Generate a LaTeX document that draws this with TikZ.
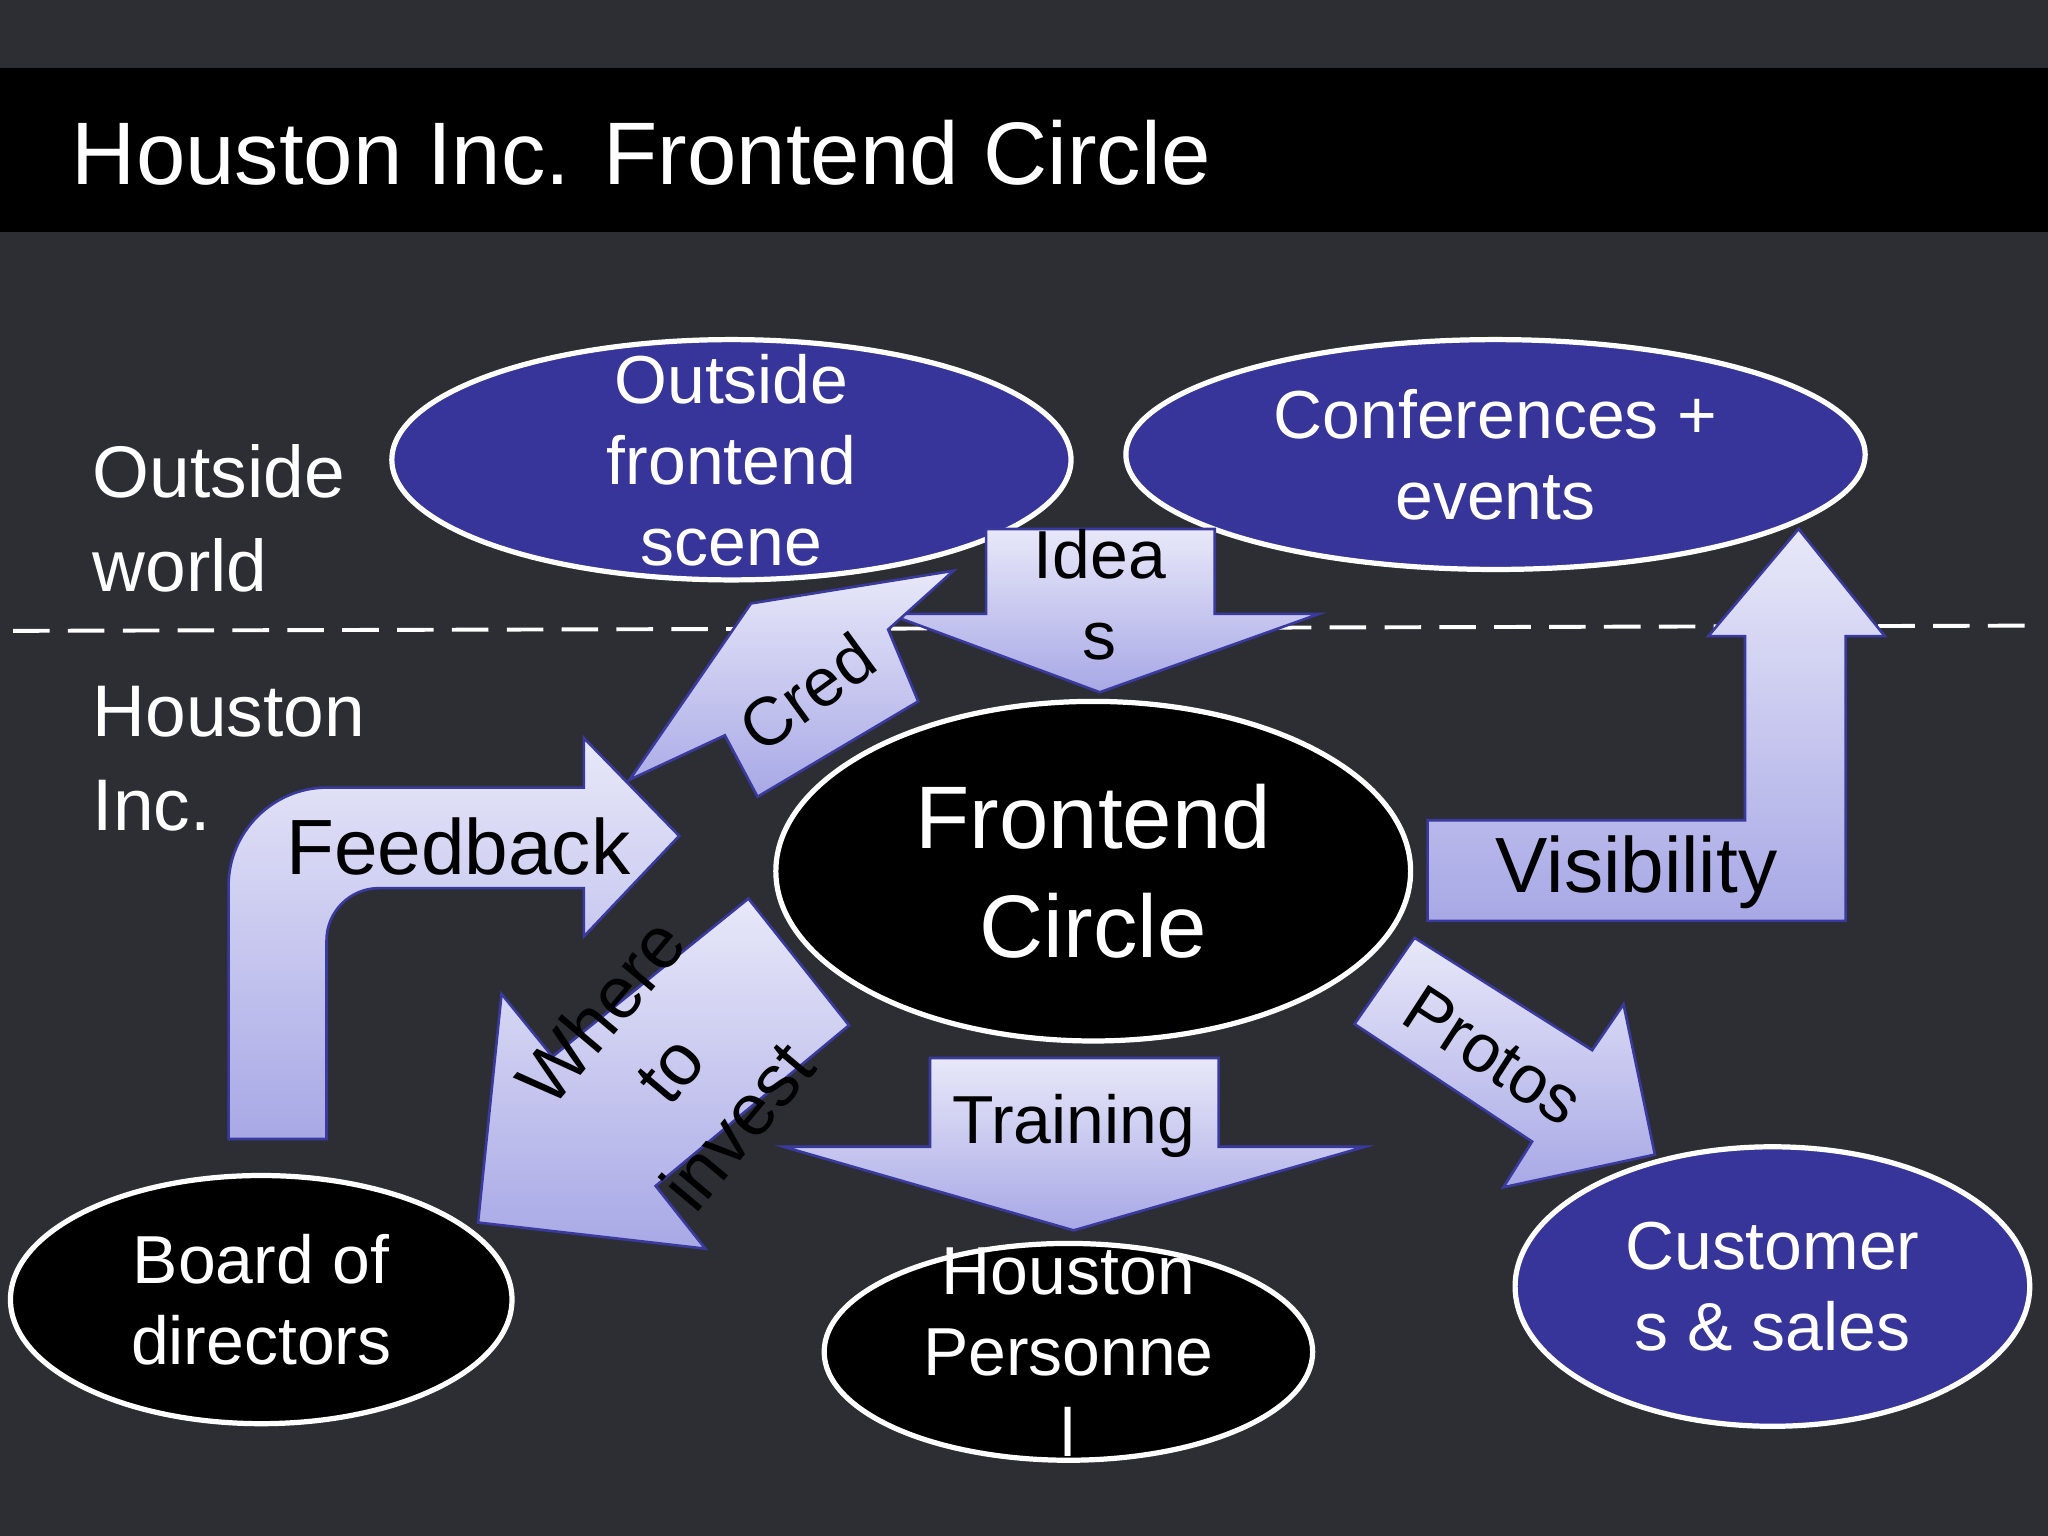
\documentclass[tikz,border=0pt]{standalone}
\usepackage{fontspec}
\setmainfont{Liberation Sans}
\usetikzlibrary{shapes.geometric}
\definecolor{bg}{HTML}{2C2E33}
\definecolor{eblue}{HTML}{37359A}
\definecolor{aedge}{HTML}{3A3A9E}
\definecolor{atop}{HTML}{E8E8F9}
\definecolor{abot}{HTML}{A8A8E6}
\tikzset{
 ell/.style={ellipse,draw=white,line width=2pt,inner sep=0pt},
 bluee/.style={ell,fill=eblue},
 blacke/.style={ell,fill=black},
 arr/.style={draw=aedge,line width=1pt,top color=atop,bottom color=abot},
 wtxt/.style={text=white,align=center,font=\fontsize{26}{31}\selectfont},
 btxt/.style={text=black,align=center,font=\fontsize{26}{31}\selectfont},
 bigtxt/.style={btxt,font=\fontsize{30}{36}\selectfont},
 side/.style={text=white,align=left,anchor=west,font=\fontsize{28}{36}\selectfont}
}
\begin{document}
\begin{tikzpicture}[x=0.5pt,y=-0.5pt]
\fill[bg] (0,0) rectangle (1568,1176);
\useasboundingbox (0,0) rectangle (1568,1176);
\fill[black] (0,52) rectangle (1568,178);
\node[anchor=west,text=white,font=\fontsize{34}{40}\selectfont] (title) at (48,117) {Houston Inc. Frontend Circle};
\coordinate (dl) at (10,483); \coordinate (dr) at (1552,479);
\draw[white,line width=1.5pt,dash pattern=on 14pt off 7pt] (dl) -- (dr);
\node[side] (ow) at (64,397) {Outside\\world};
\node[side] (hi) at (64,581) {Houston\\Inc.};
% ellipses
\node[bluee,minimum width=260pt,minimum height=92pt] (os) at (560,352) {};
\node[wtxt] at (os) {Outside\\frontend\\scene};
\node[bluee,minimum width=283pt,minimum height=88pt] (ce) at (1145,348) {};
\node[wtxt] at (ce) {Conferences +\\events};
\node[blacke,minimum width=243pt,minimum height=130pt] (fc) at (837,667) {};
\node[text=white,align=center,font=\fontsize{34}{42}\selectfont] at (fc) {Frontend\\Circle};
\node[blacke,minimum width=192pt,minimum height=95pt] (bd) at (200,995) {};
\node[wtxt] at (bd) {Board of\\directors};
\node[blacke,minimum width=187pt,minimum height=83pt] (hp) at (818,1035) {};
\node[wtxt] at (hp) {Houston\\Personne\\l};
\node[bluee,minimum width=197pt,minimum height=107pt] (cs) at (1357,985) {};
\node[wtxt] at (cs) {Customer\\s \& sales};
% arrows
\draw[arr] (755,405) -- (930,405) -- (930,470) -- (1010,470) -- (842,530) -- (680,470) -- (755,470) -- cycle;
\node[btxt] (ideas) at (842,455) {Idea\\s};
\draw[arr] (482,597) -- (575,462) -- (730,437) -- (680,482) -- (703,537) -- (580,610) -- (555,563) -- cycle;
\node[btxt,rotate=36] (cred) at (618,530) {Cred};
\draw[arr] (175,872) -- (175,678) .. controls (175,637) and (209,603) .. (250,603) -- (447,603) -- (447,565) -- (520,640) -- (447,717) -- (447,680) -- (290,680) .. controls (268,680) and (250,698) .. (250,720) -- (250,872) -- cycle;
\node[bigtxt,anchor=west] (fb) at (212,648) {Feedback};
\draw[arr] (573,688) -- (650,785) -- (502,908) -- (540,956) -- (366,936) -- (384,761) -- (423,809) -- cycle;
\node[btxt,rotate=50,font=\fontsize{28}{34}\selectfont] (wti) at (512,818) {Where\\to\\invest};
\draw[arr] (712,810) -- (933,810) -- (933,878) -- (1045,878) -- (822,942) -- (600,878) -- (712,878) -- cycle;
\node[btxt] (tr) at (822,862) {Training};
\draw[arr] (1093,628) -- (1336,628) -- (1336,487) -- (1308,487) -- (1377,405) -- (1443,487) -- (1413,487) -- (1413,705) -- (1093,705) -- cycle;
\node[bigtxt] (vis) at (1253,668) {Visibility};
\draw[arr] (1083,718) -- (1219,804) -- (1243,769) -- (1267,884) -- (1151,909) -- (1173,874) -- (1037,784) -- cycle;
\node[btxt,rotate=-33] (pr) at (1143,808) {Protos};
\end{tikzpicture}
\end{document}
